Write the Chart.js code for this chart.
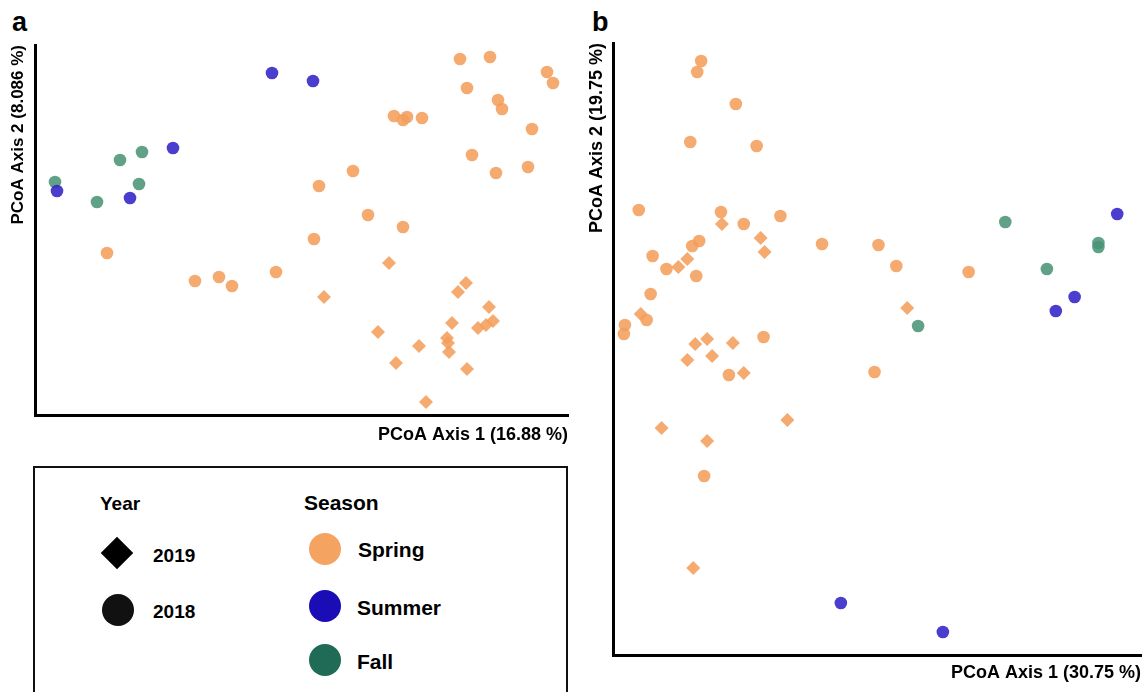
<!DOCTYPE html>
<html>
<head>
<meta charset="utf-8">
<script src="https://cdn.jsdelivr.net/npm/chart.js@4.4.1/dist/chart.umd.min.js"></script>
<style>
  html, body { margin: 0; padding: 0; background: #fff; }
  body { width: 1148px; height: 692px; position: relative; overflow: hidden;
         font-family: 'Liberation Sans', Arial, sans-serif; }
  .panel { position: absolute; }
  .tag { position: absolute; font-weight: bold; font-size: 27px; line-height: 1; }
  #legendBox { position: absolute; left: 33px; top: 466px; width: 535px; height: 240px;
               border: 2px solid #111; box-sizing: border-box; }
  .lg { position: absolute; font-weight: bold; font-size: 19px; line-height: 1;
        transform: translateY(-50%); white-space: nowrap; }
  .lg.s { font-size: 21px; }
  .dot { position: absolute; width: 32px; height: 32px; border-radius: 50%;
         transform: translate(-50%, -50%); }
  .dia { position: absolute; width: 23px; height: 23px; background: #000;
         transform: translate(-50%, -50%) rotate(45deg); }
</style>
</head>
<body>
<div class="tag" style="left:12px; top:9px;">a</div>
<div class="tag" style="left:592px; top:9px;">b</div>

<div class="panel" style="left:0; top:0; width:580px; height:450px;"><canvas id="chartA"></canvas></div>
<div class="panel" style="left:580px; top:0; width:568px; height:692px;"><canvas id="chartB"></canvas></div>

<div id="legendBox"></div>
<div class="lg" style="left:100px; top:503px;">Year</div>
<div class="lg s" style="left:304px; top:502px;">Season</div>
<div class="dia" style="left:117px; top:553px;"></div>
<div class="lg" style="left:153px; top:555px;">2019</div>
<div class="dot" style="left:118px; top:610px; background:#111;"></div>
<div class="lg" style="left:153px; top:611px;">2018</div>
<div class="dot" style="left:325px; top:549px; background:#f4a460;"></div>
<div class="lg s" style="left:358px; top:549px;">Spring</div>
<div class="dot" style="left:325px; top:606px; background:#1a0db5;"></div>
<div class="lg s" style="left:357px; top:607px;">Summer</div>
<div class="dot" style="left:325px; top:660px; background:#1f6b55;"></div>
<div class="lg s" style="left:357px; top:661px;">Fall</div>

<script>
// Panel a: PCoA Axis 1 (16.88 %) vs Axis 2 (8.086 %)
const aSpring2018 = [
  [425,356],[455,358],[512,343],[518,332],[432,327],[463,315],[467,306],[359,299],
  [368,295],[372,298],[387,297],[497,286],[437,260],[461,242],[493,248],[318,244],
  [284,229],[333,200],[368,188],[279,176],[241,143],[160,134],[184,138],[197,129],[72,162]
];
const aSpring2019 = [
  [354,152],[431,132],[423,123],[289,118],[454,108],[458,94],[451,90],[443,87],
  [417,92],[343,83],[412,77],[413,72],[384,69],[414,63],[361,52],[432,46],[391,13]
];
const aSummer2018 = [[237,342],[278,334],[138,267],[22,224],[95,217]];
const aFall2018 = [[107,263],[85,255],[20,233],[104,231],[62,213]];

// Panel b: PCoA Axis 1 (30.75 %) vs Axis 2 (19.75 %)
const bSpring2018 = [
  [89,594],[85,583],[124,551],[78,513],[145,509],[26,445],[109,443],[132,431],
  [169,439],[211,411],[87,414],[80,409],[40,399],[54,386],[84,379],[38,361],
  [34,335],[12,330],[11,321],[152,318],[117,280],[92,179],[268,410],[286,389],
  [359,383],[264,283]
];
const bSpring2019 = [
  [110,431],[149,417],[153,403],[75,396],[66,388],[28,341],[95,316],[83,311],
  [121,312],[100,299],[75,295],[132,282],[176,235],[49,227],[95,214],[81,87],[297,347]
];
const bSummer2018 = [[509,441],[466,358],[447,344],[230,52],[333,23]];
const bFall2018 = [[396,433],[490,412],[490,408],[438,386],[308,329]];

const SPRING = 'rgba(244,158,92,0.88)';
const SUMMER = 'rgba(55,40,200,0.9)';
const FALL = 'rgba(74,148,120,0.88)';

const toXY = arr => arr.map(p => ({ x: p[0], y: p[1] }));

function makeSet(label, pts, color, style) {
  return {
    label: label,
    data: toXY(pts),
    backgroundColor: color,
    borderWidth: 0,
    pointStyle: style,
    pointRadius: style === 'rectRot' ? 7 : 6.3,
    pointHoverRadius: 7
  };
}

function createPcoaChart(id, sets, cfg) {
  const ctx = document.getElementById(id).getContext('2d');
  return new Chart(ctx, {
    type: 'scatter',
    data: { datasets: sets },
    options: {
      responsive: true,
      maintainAspectRatio: false,
      animation: false,
      layout: { padding: { top: cfg.top, right: cfg.right, left: 0, bottom: 0 } },
      plugins: { legend: { display: false }, tooltip: { enabled: false } },
      scales: {
        x: {
          min: 0, max: cfg.xMax,
          grid: { display: false },
          border: { color: '#000', width: 3 },
          ticks: { display: false },
          afterFit: s => { s.height = cfg.xH; },
          title: {
            display: true, text: cfg.xTitle, align: 'end', color: '#000',
            font: { family: "'Liberation Sans', Arial", size: 18, weight: 'bold' },
            padding: { top: 0, bottom: cfg.xPad }
          }
        },
        y: {
          min: 0, max: cfg.yMax,
          grid: { display: false },
          border: { color: '#000', width: 3 },
          ticks: { display: false },
          afterFit: s => { s.width = cfg.yW; },
          title: {
            display: true, text: cfg.yTitle, align: 'end', color: '#000',
            font: { family: "'Liberation Sans', Arial", size: cfg.yFont, weight: 'bold' },
            padding: { top: cfg.yPad, bottom: 0 }
          }
        }
      }
    }
  });
}

createPcoaChart('chartA', [
  makeSet('Spring 2018', aSpring2018, SPRING, 'circle'),
  makeSet('Spring 2019', aSpring2019, SPRING, 'rectRot'),
  makeSet('Summer 2018', aSummer2018, SUMMER, 'circle'),
  makeSet('Fall 2018', aFall2018, FALL, 'circle')
], {
  top: 45, right: 12, xMax: 533, yMax: 370, xH: 35, yW: 35, xPad: 4, yPad: 8, yFont: 17,
  xTitle: 'PCoA Axis 1 (16.88 %)', yTitle: 'PCoA Axis 2 (8.086 %)'
});

createPcoaChart('chartB', [
  makeSet('Spring 2018', bSpring2018, SPRING, 'circle'),
  makeSet('Spring 2019', bSpring2019, SPRING, 'rectRot'),
  makeSet('Summer 2018', bSummer2018, SUMMER, 'circle'),
  makeSet('Fall 2018', bFall2018, FALL, 'circle')
], {
  top: 43, right: 2, xMax: 533, yMax: 612, xH: 37, yW: 33, xPad: 8, yPad: 6, yFont: 18,
  xTitle: 'PCoA Axis 1 (30.75 %)', yTitle: 'PCoA Axis 2 (19.75 %)'
});
</script>
</body>
</html>
